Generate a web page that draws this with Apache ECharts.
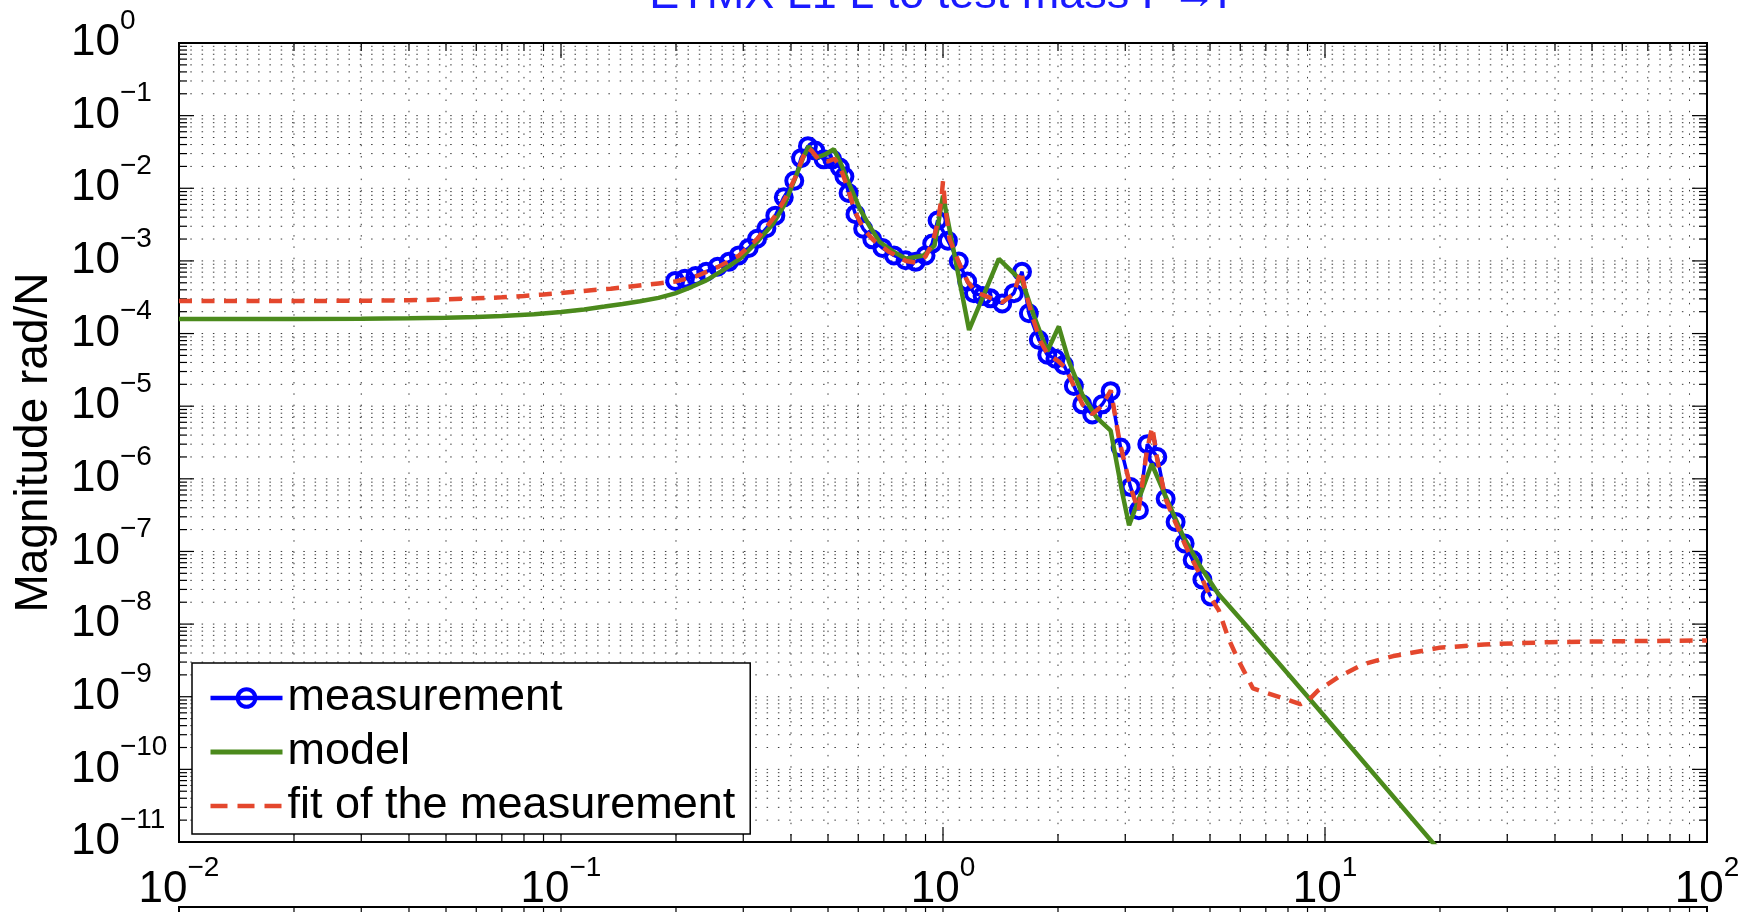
<!DOCTYPE html>
<html>
<head>
<meta charset="utf-8">
<script src="https://cdn.jsdelivr.net/npm/echarts@6/dist/echarts.min.js"></script>
<style>
  html, body { margin: 0; padding: 0; background: #fff; }
  #chart { width: 1744px; height: 912px; }
</style>
</head>
<body>
<div id="chart"></div>
<script>
// measurement (Hz, rad/N)
const measFreq = [0.199, 0.211, 0.225, 0.240, 0.257, 0.275, 0.292, 0.310, 0.326, 0.345, 0.364, 0.383, 0.408, 0.425,
  0.443, 0.463, 0.487, 0.513, 0.537, 0.552, 0.566, 0.590, 0.618, 0.653, 0.694, 0.744, 0.798, 0.848, 0.900, 0.937,
  0.968, 1.03, 1.10, 1.157, 1.205, 1.27, 1.332, 1.429, 1.533, 1.61, 1.678, 1.782, 1.875, 1.97, 2.072, 2.201, 2.315,
  2.459, 2.612, 2.747, 2.917, 3.098, 3.257, 3.426, 3.639, 3.827, 4.064, 4.291, 4.504, 4.775, 5.02];
const measMag = [5.3e-4, 5.7e-4, 6.2e-4, 7.1e-4, 8.3e-4, 9.7e-4, 1.19e-3, 1.51e-3, 2.02e-3, 2.82e-3, 4.2e-3, 7.5e-3, 1.27e-2, 2.6e-2,
  3.8e-2, 3.3e-2, 2.5e-2, 2.5e-2, 1.93e-2, 1.45e-2, 8.6e-3, 4.4e-3, 2.77e-3, 1.98e-3, 1.51e-3, 1.19e-3, 1.02e-3, 9.7e-4, 1.19e-3, 1.73e-3,
  3.6e-3, 1.9e-3, 9.8e-4, 5.2e-4, 3.6e-4, 3.3e-4, 3.05e-4, 2.6e-4, 3.6e-4, 7.1e-4, 1.9e-4, 8.2e-5, 5.1e-5, 4.5e-5, 3.7e-5, 1.9e-5, 1.06e-5,
  7.7e-6, 1.06e-5, 1.61e-5, 2.7e-6, 7.7e-7, 3.7e-7, 3.0e-6, 2.0e-6, 5.3e-7, 2.55e-7, 1.29e-7, 7.6e-8, 4.1e-8, 2.4e-8];

// model
const modelFreq = [0.01, 0.02, 0.03, 0.04, 0.05, 0.06, 0.07, 0.085, 0.1, 0.115, 0.13, 0.145, 0.161, 0.18, 0.199, 0.22, 0.24,
  0.265, 0.295, 0.326, 0.359, 0.385, 0.406, 0.43, 0.445, 0.466, 0.49, 0.518, 0.54, 0.561, 0.606, 0.645, 0.683, 0.74, 0.80,
  0.89, 0.95, 1.0, 1.17, 1.40, 1.613, 1.727, 1.875, 2.01, 2.136, 2.315, 2.522, 2.747, 2.95, 3.07, 3.52, 3.87, 4.26, 4.72,
  5.24, 6.33, 9.12, 20];
const modelMag = [1.58e-4, 1.58e-4, 1.6e-4, 1.62e-4, 1.65e-4, 1.69e-4, 1.75e-4, 1.85e-4, 1.98e-4, 2.15e-4, 2.35e-4, 2.55e-4, 2.78e-4, 3.1e-4, 3.57e-4, 4.4e-4, 5.4e-4,
  7.4e-4, 1.08e-3, 1.82e-3, 3.24e-3, 6.0e-3, 1.2e-2, 2.6e-2, 3.8e-2, 2.65e-2, 2.9e-2, 3.44e-2, 2.2e-2, 1.34e-2, 5.2e-3, 2.9e-3, 1.82e-3, 1.35e-3, 1.07e-3,
  1.19e-3, 1.63e-3, 7.9e-3, 1.12e-4, 1.07e-3, 5.2e-4, 1.8e-4, 5.7e-5, 1.25e-4, 4.15e-5, 1.45e-5, 7.0e-6, 4.6e-6, 6.2e-7, 2.3e-7, 1.6e-6, 5.0e-7, 1.59e-7, 6.2e-8,
  2.66e-8, 8.6e-9, 9.3e-10, 7.5e-12];

// fit of the measurement
const fitFreq = [0.01, 0.02, 0.03, 0.04, 0.05, 0.06, 0.07, 0.08, 0.09, 0.1, 0.12, 0.135, 0.15, 0.165, 0.18, 0.199, 0.225, 0.257,
  0.292, 0.326, 0.364, 0.39, 0.41, 0.43, 0.443, 0.455, 0.475, 0.50, 0.52, 0.537, 0.56, 0.59, 0.62, 0.66, 0.72, 0.80, 0.85,
  0.90, 0.94, 0.97, 0.99, 1.0, 1.012, 1.04, 1.10, 1.16, 1.22, 1.33, 1.43, 1.53, 1.60, 1.65, 1.72, 1.80, 1.88, 2.0, 2.1, 2.2,
  2.32, 2.46, 2.6, 2.75, 2.9, 3.1, 3.25, 3.42, 3.53, 3.64, 3.83, 4.06, 4.29, 4.5, 4.78, 5.02, 5.27, 5.6, 5.91, 6.48, 7.43,
  8.62, 9.12, 9.56, 10.96, 12.56, 15.1, 19.85, 26.1, 38.5, 60.8, 100];
const fitMag = [2.8e-4, 2.8e-4, 2.83e-4, 2.87e-4, 2.95e-4, 3.05e-4, 3.15e-4, 3.3e-4, 3.45e-4, 3.6e-4, 3.95e-4, 4.15e-4, 4.4e-4, 4.65e-4, 4.9e-4, 5.2e-4, 6.1e-4, 8.2e-4,
  1.18e-3, 2.0e-3, 4.2e-3, 8e-3, 1.4e-2, 2.7e-2, 3.6e-2, 3.2e-2, 2.4e-2, 2.35e-2, 2.55e-2, 2.0e-2, 1.1e-2, 4.6e-3, 2.75e-3, 1.9e-3, 1.35e-3, 1.0e-3, 9.5e-4,
  1.15e-3, 1.8e-3, 3.5e-3, 7e-3, 1.25e-2, 6e-3, 2.0e-3, 9.5e-4, 5.2e-4, 3.7e-4, 3.1e-4, 2.7e-4, 3.5e-4, 7.3e-4, 3.5e-4, 1.6e-4, 7.8e-5, 5.2e-5, 4.2e-5, 3.3e-5, 1.9e-5,
  1.05e-5, 7.8e-6, 1.0e-5, 1.65e-5, 3.2e-6, 7.5e-7, 3.6e-7, 2.5e-6, 5.2e-6, 1.8e-6, 5.2e-7, 2.5e-7, 1.28e-7, 7.6e-8, 4.1e-8, 2.3e-8, 1.55e-8, 6.2e-9, 3.3e-9, 1.3e-9, 1.03e-9,
  7.9e-10, 9.3e-10, 1.2e-9, 1.93e-9, 2.79e-9, 3.63e-9, 4.71e-9, 5.25e-9, 5.64e-9, 5.82e-9, 5.95e-9];

// axis decades
const xDecades = [-2, -1, 0, 1, 2];
const yDecades = [-11, -10, -9, -8, -7, -6, -5, -4, -3, -2, -1, 0];

const FONT = '"Liberation Sans", Arial, Helvetica, sans-serif';
const BLUE = '#0000ff', GREEN = '#4b8a1c', RED = '#e4472d';
const gridStyle = { stroke: '#3a3a3a', lineWidth: 1, lineDash: [1.5, 9.8] };
const tickStyle = { stroke: '#000', lineWidth: 1.2 };

// log grid positions: 1..9 x 10^n
function logTicks(decades) {
  const out = [];
  for (let i = 0; i < decades.length - 1; i++) {
    for (let k = 1; k <= 9; k++) {
      out.push([Number((k * Math.pow(10, decades[i])).toPrecision(10)), k === 1 ? 1 : 0]);
    }
  }
  out.push([Math.pow(10, decades[decades.length - 1]), 1]);
  return out;
}
const xTicks = logTicks(xDecades);
const yTicks = logTicks(yDecades);

function supLabel(v) {
  const e = Math.round(Math.log10(v));
  return '{b|10}{s|' + (e < 0 ? '\u2212' + (-e) : String(e)) + '}';
}
const labelRich = {
  b: { fontSize: 44, lineHeight: 72, fontFamily: FONT, color: '#000' },
  s: { fontSize: 28, fontFamily: FONT, color: '#000', verticalAlign: 'top' }
};

function renderXTicks(params, api) {
  const cs = params.coordSys;
  const x = api.coord([api.value(0), 1])[0];
  const len = api.value(2) ? 15 : 8;
  const top = cs.y, bot = cs.y + cs.height;
  const kids = [];
  const edge = Math.abs(x - cs.x) < 1 || Math.abs(x - cs.x - cs.width) < 1;
  if (!edge) kids.push({ type: 'line', shape: { x1: x, y1: top, x2: x, y2: bot }, style: gridStyle });
  kids.push({ type: 'line', shape: { x1: x, y1: bot, x2: x, y2: bot - len }, style: tickStyle });
  kids.push({ type: 'line', shape: { x1: x, y1: top, x2: x, y2: top + len }, style: tickStyle });
  return { type: 'group', children: kids };
}
function renderYTicks(params, api) {
  const cs = params.coordSys;
  const y = api.coord([1, api.value(1)])[1];
  const len = api.value(2) ? 15 : 8;
  const left = cs.x, right = cs.x + cs.width;
  const kids = [];
  const edge = Math.abs(y - cs.y) < 1 || Math.abs(y - cs.y - cs.height) < 1;
  if (!edge) kids.push({ type: 'line', shape: { x1: left, y1: y, x2: right, y2: y }, style: gridStyle });
  kids.push({ type: 'line', shape: { x1: left, y1: y, x2: left + len, y2: y }, style: tickStyle });
  kids.push({ type: 'line', shape: { x1: right, y1: y, x2: right - len, y2: y }, style: tickStyle });
  return { type: 'group', children: kids };
}
function renderLowerTicks(params, api) {
  const cs = params.coordSys;
  const x = api.coord([api.value(0), 1])[0];
  const len = api.value(2) ? 15 : 8;
  return { type: 'line', shape: { x1: x, y1: cs.y, x2: x, y2: cs.y + len }, style: tickStyle };
}

const chart = echarts.init(document.getElementById('chart'));
chart.setOption({
  animation: false,
  backgroundColor: '#fff',
  title: {
    text: 'ETMX L1 L to test mass P\u2192P',
    left: 943, top: -32, textAlign: 'center',
    textStyle: { color: '#1a1aff', fontSize: 45, fontWeight: 'normal', fontFamily: FONT }
  },
  legend: {
    orient: 'vertical', left: 192, top: 663,
    padding: [12, 15, 5, 16], itemGap: 8, itemWidth: 72, itemHeight: 22,
    backgroundColor: '#fff', borderColor: '#000', borderWidth: 1.5, borderRadius: 0,
    textStyle: { fontSize: 45, lineHeight: 46, fontFamily: FONT, color: '#000' },
    data: [
      { name: 'measurement', lineStyle: { width: 4.5 }, itemStyle: { borderWidth: 4 } },
      { name: 'model', lineStyle: { width: 5 }, itemStyle: { opacity: 0 } },
      { name: 'fit of the measurement', lineStyle: { width: 4.5, type: [17, 10] }, itemStyle: { opacity: 0 } }
    ]
  },
  grid: [
    { left: 179, top: 43, width: 1528, height: 804, show: true, borderColor: '#000', borderWidth: 2, backgroundColor: '#fff' },
    { left: 179, top: 907, width: 1528, height: 200, show: true, borderColor: '#000', borderWidth: 2, backgroundColor: '#fff' }
  ],
  xAxis: [
    {
      type: 'log', logBase: 10, min: 0.01, max: 100, gridIndex: 0,
      axisLine: { show: false }, axisTick: { show: false }, splitLine: { show: false },
      axisLabel: { margin: 12, formatter: supLabel, rich: labelRich, showMinLabel: true, showMaxLabel: true }
    },
    {
      type: 'log', logBase: 10, min: 0.01, max: 100, gridIndex: 1,
      axisLine: { show: false }, axisTick: { show: false }, splitLine: { show: false }, axisLabel: { show: false }
    }
  ],
  yAxis: [
    {
      type: 'log', logBase: 10, min: 1e-11, max: 1, interval: 1, gridIndex: 0,
      axisLine: { show: false }, axisTick: { show: false }, splitLine: { show: false },
      axisLabel: { margin: 108, align: 'left', formatter: supLabel, rich: labelRich, showMinLabel: true, showMaxLabel: true },
      name: 'Magnitude rad/N', nameLocation: 'middle', nameGap: 122,
      nameTextStyle: { fontSize: 46, fontFamily: FONT, color: '#000' }
    },
    { type: 'value', min: 0, max: 1, gridIndex: 1, show: false }
  ],
  series: [
    {
      type: 'custom', name: 'xgrid', silent: true, z: 1, xAxisIndex: 0, yAxisIndex: 0,
      data: xTicks.map(t => [t[0], 1, t[1]]), encode: { x: 0, y: 1 }, renderItem: renderXTicks
    },
    {
      type: 'custom', name: 'ygrid', silent: true, z: 1, xAxisIndex: 0, yAxisIndex: 0,
      data: yTicks.map(t => [1, t[0], t[1]]), encode: { x: 0, y: 1 }, renderItem: renderYTicks
    },
    {
      type: 'custom', name: 'lowerticks', silent: true, z: 1, xAxisIndex: 1, yAxisIndex: 1,
      data: xTicks.map(t => [t[0], 0.5, t[1]]), encode: { x: 0, y: 1 }, renderItem: renderLowerTicks
    },
    {
      type: 'line', name: 'measurement', z: 3,
      data: measFreq.map((f, i) => [f, measMag[i]]),
      symbol: 'circle', symbolSize: 16, showSymbol: true,
      itemStyle: { color: 'rgba(255,255,255,0)', borderColor: BLUE, borderWidth: 4 },
      lineStyle: { color: BLUE, width: 3.5 }
    },
    {
      type: 'line', name: 'model', z: 4,
      data: modelFreq.map((f, i) => [f, modelMag[i]]),
      symbol: 'none', itemStyle: { color: GREEN },
      lineStyle: { color: GREEN, width: 4.5 }
    },
    {
      type: 'line', name: 'fit of the measurement', z: 5,
      data: fitFreq.map((f, i) => [f, fitMag[i]]),
      symbol: 'none', itemStyle: { color: RED },
      lineStyle: { color: RED, width: 4.5, type: [13, 9.5] }
    }
  ]
});
</script>
</body>
</html>
